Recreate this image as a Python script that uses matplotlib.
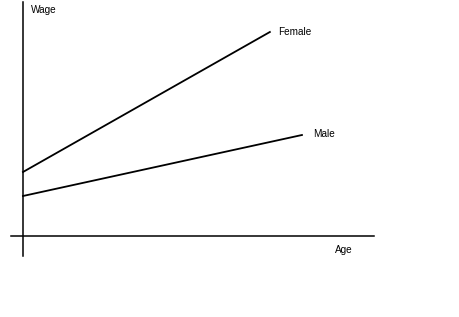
import matplotlib
matplotlib.use("Agg")
import matplotlib.pyplot as plt

# Wage vs age lines (arbitrary units)
female_age = [0, 8.85]
female_wage = [3.2, 10.2]
male_age = [0, 10.0]
male_wage = [2.0, 5.05]

fig = plt.figure(figsize=(4.59, 3.17), dpi=100)
ax = fig.add_axes([0, 0, 1, 1])
ax.set_xlim(-0.824, 15.63)
ax.set_ylim(-4.05, 11.8)
ax.axis('off')

# Axes drawn as plain lines, crossing at the origin
ax.plot([-0.43, 12.58], [0, 0], color='black', lw=1.1)
ax.plot([0, 0], [-1.0, 11.7], color='black', lw=1.1)

ax.plot(female_age, female_wage, color='black', lw=1.3)
ax.plot(male_age, male_wage, color='black', lw=1.3)

font = {'family': 'Liberation Sans', 'size': 7.2, 'color': 'black'}
ax.text(0.3, 11.3, 'Wage', fontdict=font, va='center')
ax.text(9.15, 10.2, 'Female', fontdict=font, va='center')
ax.text(10.4, 5.1, 'Male', fontdict=font, va='center')
ax.text(11.2, -0.7, 'Age', fontdict=font, va='center')

fig.savefig('out.png', dpi=100, facecolor='white')
plt.close()
